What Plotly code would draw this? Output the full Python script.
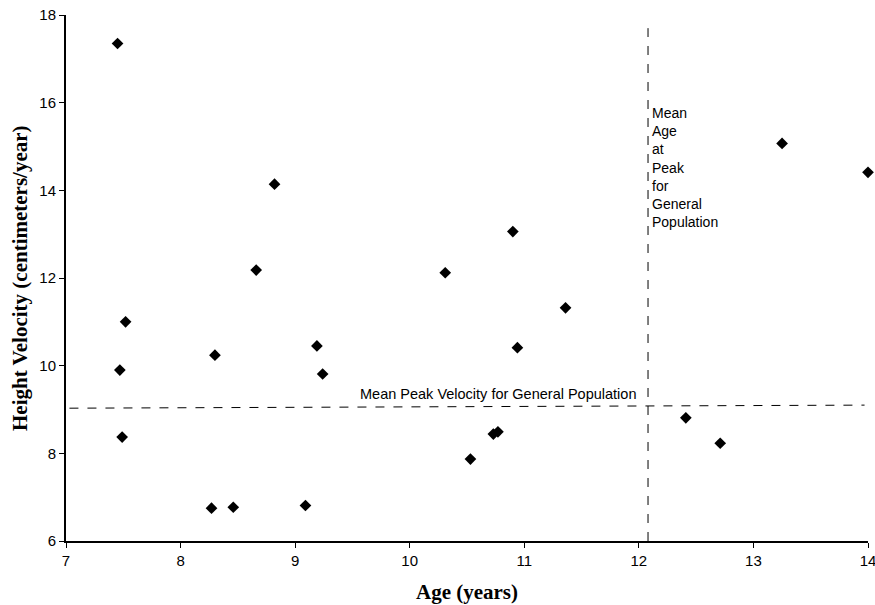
import plotly.graph_objects as go

age = [7.45, 8.82, 8.66, 7.52, 8.30, 9.19, 9.24, 7.47, 7.49, 8.27, 8.46, 9.09,
       10.90, 10.31, 11.36, 10.94, 10.73, 10.77, 10.53, 13.25, 14.00, 12.41, 12.71]
velocity = [17.35, 14.14, 12.18, 11.00, 10.24, 10.45, 9.81, 9.90, 8.37, 6.75, 6.77, 6.81,
            13.06, 12.12, 11.32, 10.41, 8.44, 8.49, 7.87, 15.07, 14.41, 8.81, 8.23]

mean_velocity_x = [7.03, 13.97]
mean_velocity_y = [9.03, 9.10]
mean_age = 12.08
mean_age_top = 17.70

x_ticks = [7, 8, 9, 10, 11, 12, 13, 14]
y_ticks = [6, 8, 10, 12, 14, 16, 18]

fig = go.Figure()
fig.add_trace(go.Scatter(x=mean_velocity_x, y=mean_velocity_y, mode="lines",
                         line=dict(color="black", width=1, dash="dash"),
                         hoverinfo="skip", showlegend=False))
fig.add_trace(go.Scatter(x=[mean_age, mean_age], y=[6, mean_age_top], mode="lines",
                         line=dict(color="black", width=1, dash="dash"),
                         hoverinfo="skip", showlegend=False))
fig.add_trace(go.Scatter(x=age, y=velocity, mode="markers",
                         marker=dict(symbol="diamond", size=9, color="black"),
                         cliponaxis=False, showlegend=False))

fig.add_annotation(x=10.77, y=9.06, xref="x", yref="y", text="Mean Peak Velocity for General Population",
                   showarrow=False, yanchor="bottom", yshift=3,
                   font=dict(family="Liberation Sans, Arial", size=14.5, color="black"))
fig.add_annotation(x=mean_age, y=16.0, xref="x", yref="y",
                   text="Mean<br>Age<br>at<br>Peak<br>for<br>General<br>Population",
                   showarrow=False, xanchor="left", yanchor="top", xshift=2, align="left",
                   font=dict(family="Liberation Sans, Arial", size=14, color="black"))

fig.add_annotation(x=0.5, y=0, xref="paper", yref="paper", text="<b>Age (years)</b>",
                   showarrow=False, yanchor="middle", yshift=-51,
                   font=dict(family="Liberation Serif, Times New Roman", size=21, color="black"))
fig.add_annotation(x=0, y=0.5, xref="paper", yref="paper", text="<b>Height Velocity (centimeters/year)</b>",
                   showarrow=False, textangle=-90, xanchor="center", xshift=-46,
                   font=dict(family="Liberation Serif, Times New Roman", size=21, color="black"))

fig.update_xaxes(range=[7, 14], tickvals=x_ticks, showgrid=False, zeroline=False,
                 showline=True, linecolor="black", linewidth=2, ticks="outside",
                 ticklen=5, tickwidth=1, tickcolor="black", ticklabeloverflow="allow",
                 automargin=False,
                 tickfont=dict(family="Liberation Sans, Arial", size=15, color="black"))
fig.update_yaxes(range=[6, 18], tickvals=y_ticks, showgrid=False, zeroline=False,
                 showline=True, linecolor="black", linewidth=2, ticks="outside",
                 ticklen=5, tickwidth=1, tickcolor="black", ticklabeloverflow="allow",
                 automargin=False,
                 tickfont=dict(family="Liberation Sans, Arial", size=15, color="black"))

fig.update_layout(width=875, height=605, margin=dict(l=66, r=7, t=15, b=64),
                  plot_bgcolor="white", paper_bgcolor="white")

fig.write_html("out.html")
